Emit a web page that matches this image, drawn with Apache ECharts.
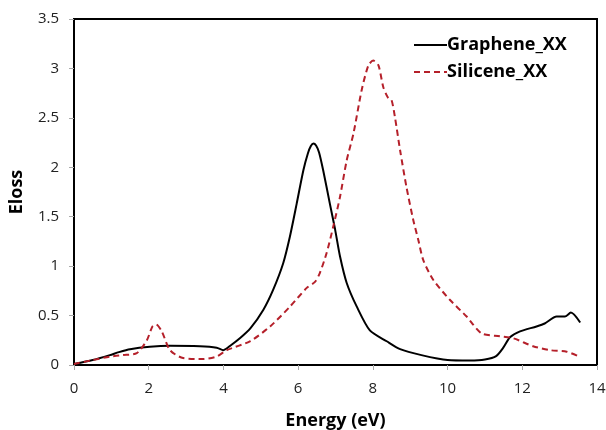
<!DOCTYPE html>
<html><head><meta charset="utf-8">
<script src="https://cdn.jsdelivr.net/npm/echarts@6/dist/echarts.min.js"></script>
<style>html,body{margin:0;padding:0;background:#fff}#c{width:606px;height:430px}</style>
</head><body><div id="c"></div>
<script>
const xTicks = [0, 2, 4, 6, 8, 10, 12, 14];
const yTicks = [0, 0.5, 1, 1.5, 2, 2.5, 3, 3.5];
const grapheneX = [0,0.5,0.96,1.2,1.5,2.03,2.57,3.37,3.82,4.0,4.2,4.44,4.72,5.07,5.33,5.6,5.78,5.96,6.14,6.26,6.34,6.41,6.48,6.56,6.67,6.85,6.99,7.12,7.3,7.57,7.92,8.37,8.73,9.3,10,10.6,11,11.3,11.5,11.67,11.94,12.38,12.6,12.92,13.14,13.3,13.55];
const grapheneY = [0.01,0.05,0.1,0.13,0.16,0.185,0.195,0.19,0.175,0.15,0.2,0.27,0.37,0.56,0.76,1.03,1.3,1.63,1.97,2.14,2.215,2.24,2.22,2.15,1.97,1.63,1.37,1.1,0.83,0.59,0.35,0.24,0.16,0.1,0.05,0.045,0.055,0.09,0.18,0.28,0.34,0.39,0.42,0.49,0.49,0.53,0.43];
const siliceneX = [0,0.5,0.96,1.3,1.68,1.95,2.1,2.2,2.35,2.57,2.92,3.46,3.82,4.09,4.71,5.25,5.78,6.23,6.45,6.58,6.76,6.94,7.12,7.3,7.48,7.7,7.88,8.01,8.15,8.28,8.41,8.5,8.59,8.73,8.9,9.08,9.22,9.35,9.62,10.06,10.51,10.91,11.4,11.76,12.29,12.74,13.19,13.55];
const siliceneY = [0.01,0.05,0.085,0.1,0.12,0.25,0.39,0.41,0.34,0.15,0.07,0.06,0.085,0.15,0.24,0.39,0.59,0.78,0.84,0.93,1.13,1.4,1.7,2.07,2.34,2.78,3.03,3.08,3.03,2.81,2.7,2.68,2.51,2.17,1.8,1.47,1.26,1.06,0.86,0.66,0.49,0.32,0.29,0.27,0.19,0.15,0.135,0.08];

const zip = (a, b) => a.map((v, i) => [v, b[i]]);
const font = 'Open Sans';
const chart = echarts.init(document.getElementById('c'));
chart.setOption({
  animation: false,
  grid: { left: 74, right: 9, top: 19, bottom: 65, show: true, borderColor: '#000', borderWidth: 2,
          containLabel: false, outerBoundsMode: 'none' },
  legend: {
    orient: 'vertical', left: 408, top: 31, itemWidth: 33, itemHeight: 12, itemGap: 9,
    itemStyle: { opacity: 0 },
    textStyle: { fontFamily: font, fontWeight: 'bold', fontSize: 18, color: '#000', padding: [0,0,0,-5] },
    data: ['Graphene_XX', 'Silicene_XX']
  },
  xAxis: {
    type: 'value', min: xTicks[0], max: xTicks[xTicks.length - 1], interval: 2,
    name: 'Energy (eV)', nameLocation: 'middle', nameGap: 47,
    nameTextStyle: { fontFamily: font, fontWeight: 'bold', fontSize: 18, color: '#000' },
    axisLine: { lineStyle: { color: '#000', width: 2 } },
    axisTick: { show: true, length: 5, lineStyle: { color: '#aaa' } },
    axisLabel: { fontFamily: font, fontSize: 15, color: '#222', margin: 16 },
    splitLine: { show: false }
  },
  yAxis: {
    type: 'value', min: yTicks[0], max: yTicks[yTicks.length - 1], interval: 0.5,
    name: 'Eloss', nameLocation: 'middle', nameGap: 48, nameRotate: 90,
    nameTextStyle: { fontFamily: font, fontWeight: 'bold', fontSize: 18, color: '#000' },
    axisLine: { show: true, lineStyle: { color: '#000', width: 2 } },
    axisTick: { show: true, length: 5, lineStyle: { color: '#aaa' } },
    axisLabel: { fontFamily: font, fontSize: 15, color: '#222', margin: 15 },
    splitLine: { show: false }
  },
  series: [
    { name: 'Graphene_XX', type: 'line', data: zip(grapheneX, grapheneY), smooth: 0.25, symbol: 'none',
      lineStyle: { color: '#000', width: 2 }, itemStyle: { color: '#000' } },
    { name: 'Silicene_XX', type: 'line', data: zip(siliceneX, siliceneY), smooth: 0.25, symbol: 'none',
      lineStyle: { color: '#B5202A', width: 2, type: [6, 4] }, itemStyle: { color: '#B5202A' } }
  ]
});
</script></body></html>
